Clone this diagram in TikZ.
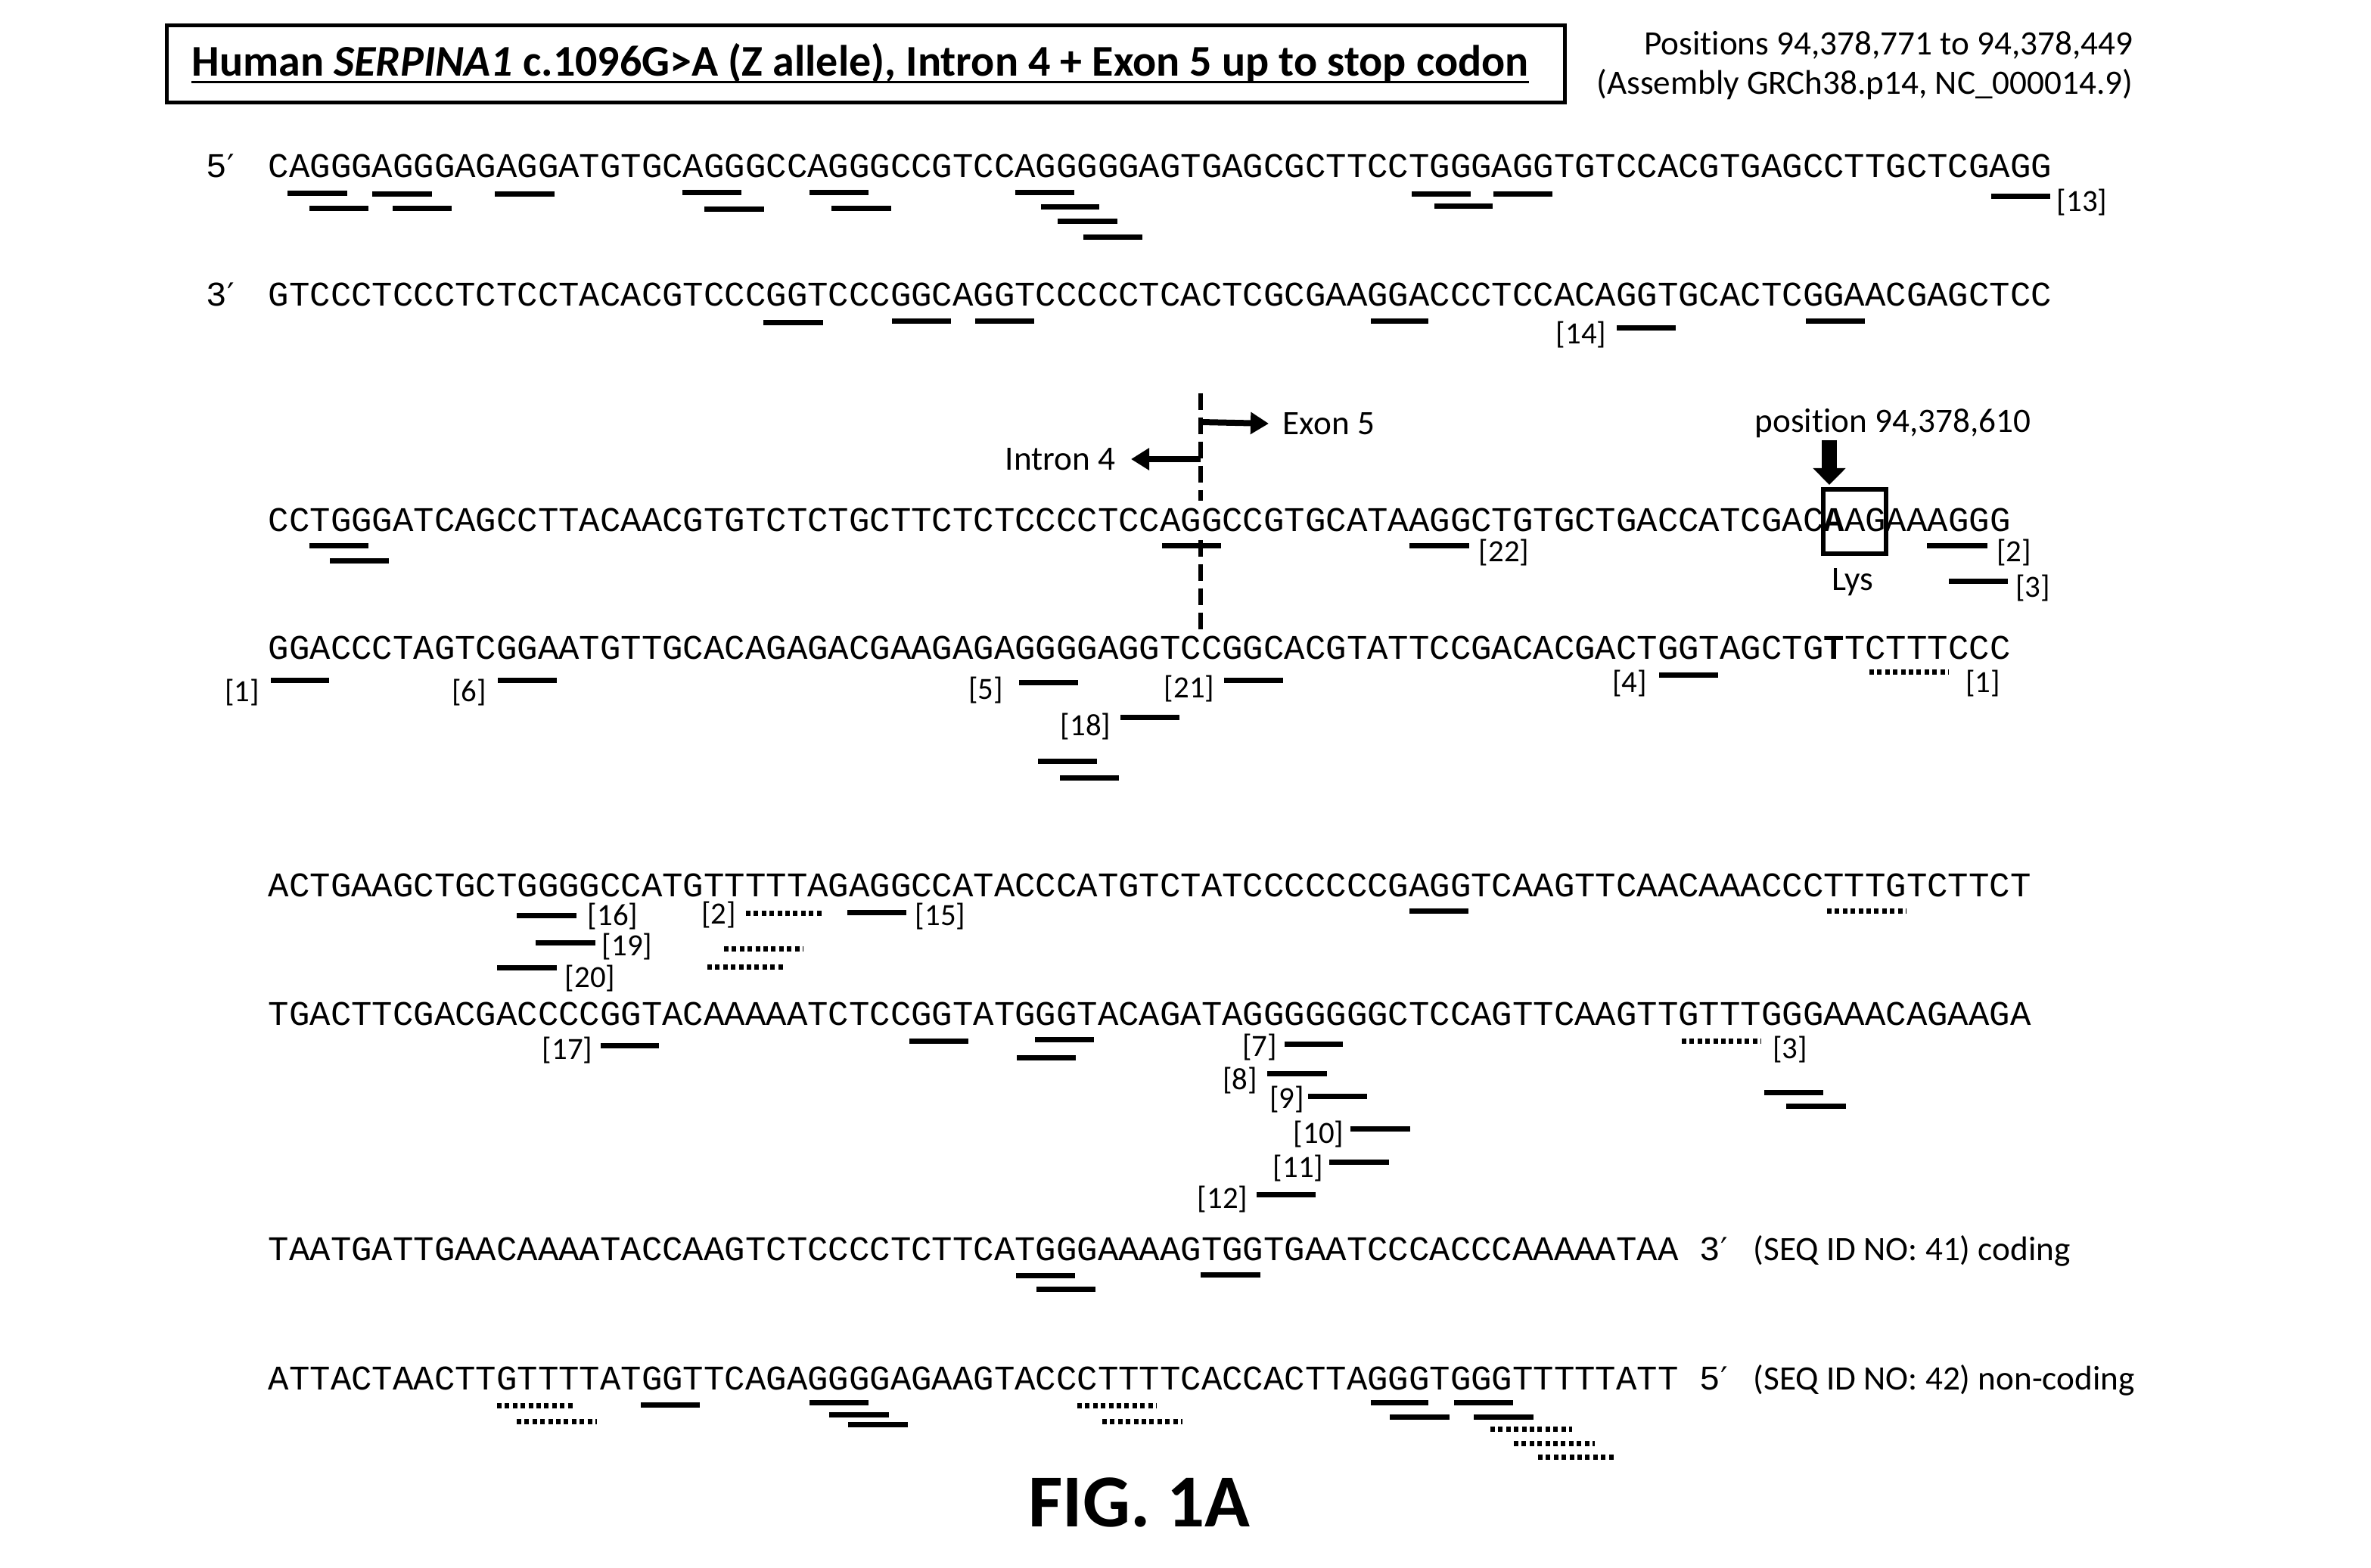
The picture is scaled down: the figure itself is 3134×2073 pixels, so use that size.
\documentclass[tikz,border=0pt]{standalone}
\usepackage{fontspec}
\setmainfont{Carlito}[Ligatures=NoCommon]
\newfontfamily\seqfam{Liberation Mono}
\newfontfamily\primefam{DejaVu Sans}
\usetikzlibrary{arrows.meta}
\newcommand\olg[3]{\draw[oligo] (#1,#3) -- (#2,#3);}
\newcommand\olgd[3]{\draw[oligodot] (#1,#3) -- (#2,#3);}
\newcommand\prm{{\primefam\fontsize{10.5pt}{13pt}\selectfont ′}}
\begin{document}
\begin{tikzpicture}[x=0.25pt,y=-0.25pt,
  seq/.style={font=\seqfam\fontsize{11.42pt}{13pt}\selectfont, anchor=base west, inner sep=0pt},
  lab/.style={font=\fontsize{11.3pt}{13pt}\selectfont, inner sep=0pt},
  ref/.style={font=\fontsize{10.2pt}{12pt}\selectfont, inner sep=0pt},
  oligo/.style={line width=1.75pt},
  oligodot/.style={line width=1.75pt, dash pattern=on 1.5pt off 1.1pt},
  bigarrow/.style={line width=2pt, -{Triangle[length=6pt,width=7pt]}},
]
\useasboundingbox (0,0) rectangle (3134,2073);

% title
\node[draw, line width=1.25pt, minimum width=462pt, minimum height=25.5pt, inner sep=0pt] (titlebox) at (1144,85) {};
\node[font=\bfseries\fontsize{14.5pt}{16pt}\selectfont, anchor=base, inner sep=0pt] (title) at (1137,101)
  {Human \textit{SERPINA1} c.1096G>A (Z allele), Intron 4 + Exon 5 up to stop codon};
\draw[line width=0.8pt] ([yshift=-1.9pt]title.base west) -- ([yshift=-1.9pt]title.base east);
\node[lab, anchor=east] (pos1) at (2820,60) {Positions 94,378,771 to 94,378,449};
\node[lab, anchor=east] (pos2) at (2820,112) {(Assembly GRCh38.p14, NC\_000014.9)};

% sequences
\node[seq] (p1) at (272,235) {5\prm};
\node[seq] (s1) at (354,235) {CAGGGAGGGAGAGGATGTGCAGGGCCAGGGCCGTCCAGGGGGAGTGAGCGCTTCCTGGGAGGTGTCCACGTGAGCCTTGCTCGAGG};
\node[seq] (p2) at (272,405) {3\prm};
\node[seq] (s2) at (354,405) {GTCCCTCCCTCTCCTACACGTCCCGGTCCCGGCAGGTCCCCCTCACTCGCGAAGGACCCTCCACAGGTGCACTCGGAACGAGCTCC};
\node[seq] (s3) at (354,703) {CCTGGGATCAGCCTTACAACGTGTCTCTGCTTCTCTCCCCTCCAGGCCGTGCATAAGGCTGTGCTGACCATCGAC{\bfseries A}AGAAAGGG};
\node[seq] (s4) at (354,872) {GGACCCTAGTCGGAATGTTGCACAGAGACGAAGAGAGGGGAGGTCCGGCACGTATTCCGACACGACTGGTAGCTG{\bfseries T}TCTTTCCC};
\node[seq] (s5) at (354,1185) {ACTGAAGCTGCTGGGGCCATGTTTTTAGAGGCCATACCCATGTCTATCCCCCCCGAGGTCAAGTTCAACAAACCCTTTGTCTTCT};
\node[seq] (s6) at (354,1355) {TGACTTCGACGACCCCGGTACAAAAATCTCCGGTATGGGTACAGATAGGGGGGGCTCCAGTTCAAGTTGTTTGGGAAACAGAAGA};
\node[seq] (s7) at (354,1666) {TAATGATTGAACAAAATACCAAGTCTCCCCTCTTCATGGGAAAAGTGGTGAATCCCACCCAAAAATAA};
\node[seq] (e7) at (2246,1666) {3\prm};
\node[lab, anchor=base west] (id7) at (2317,1666) {(SEQ ID NO: 41) coding};
\node[seq] (s8) at (354,1837) {ATTACTAACTTGTTTTATGGTTCAGAGGGGAGAAGTACCCTTTTCACCACTTAGGGTGGGTTTTTATT};
\node[seq] (e8) at (2246,1837) {5\prm};
\node[lab, anchor=base west] (id8) at (2317,1837) {(SEQ ID NO: 42) non-coding};

% intron/exon boundary
\draw[line width=1.6pt, dash pattern=on 5.5pt off 2.5pt] (1587,520) -- (1587,662);
\draw[line width=1.6pt, dash pattern=on 5.5pt off 2.5pt] (1587,714) -- (1587,836);
\coordinate (split1) at (1587,558);
\coordinate (split2) at (1587,607);
\node[lab, anchor=west] (exon) at (1695,560) {Exon 5};
\node[lab, anchor=east] (intron) at (1475,607) {Intron 4};
\draw[bigarrow] (split1) -- ([xshift=-4.5pt]exon.west);
\draw[bigarrow] (split2) -- ([xshift=5pt]intron.east);

% mutation position
\node[lab] (posn) at (2502,560) {position 94,378,610};
\node[draw, line width=1.4pt, minimum width=20.75pt, minimum height=21.25pt, inner sep=0pt] (codon) at (2451.5,689.5) {};
\draw[line width=5pt, -{Triangle[length=5.5pt,width=10.5pt]}] (2418,582) -- (2418,641);
\node[lab] (lys) at (2449,770) {Lys};

% line 1 oligos
\olg{380}{459}{256} \olg{492}{571}{257} \olg{654}{733}{257} \olg{902}{980}{255}
\olg{1070}{1148}{255} \olg{1342}{1420}{255}
\olg{409}{487}{276} \olg{519}{597}{276} \olg{931}{1010}{277} \olg{1099}{1178}{276}
\olg{1376}{1453}{274} \olg{1398}{1477}{293} \olg{1432}{1510}{314}
\olg{1866}{1944}{257} \olg{1974}{2052}{257} \olg{1896}{1973}{273} \olg{2632}{2710}{260}
\node[ref] (r13) at (2752,268) {[13]};

% line 2 oligos
\olg{1009}{1088}{427} \olg{1179}{1257}{425} \olg{1289}{1367}{425} \olg{1812}{1888}{425}
\olg{2137}{2215}{434} \olg{2387}{2465}{425}
\node[ref] (r14) at (2090,443) {[14]};

% line 3 oligos
\olg{409}{487}{722} \olg{436}{514}{742} \olg{1536}{1614}{722} \olg{1863}{1942}{722}
\olg{2547}{2627}{722} \olg{2576}{2654}{769}
\node[ref] (r22) at (1988,731) {[22]};
\node[ref] (r2a) at (2662,731) {[2]};
\node[ref] (r3a) at (2687,778) {[3]};

% line 4 oligos
\olg{358}{435}{900} \olg{658}{736}{900} \olg{1347}{1425}{903} \olg{1481}{1559}{949}
\olg{1372}{1450}{1006} \olg{1401}{1479}{1028} \olg{1618}{1696}{900} \olg{2193}{2271}{893}
\olgd{2471}{2576}{889}
\node[ref] (r1a) at (320,916) {[1]};
\node[ref] (r6) at (620,916) {[6]};
\node[ref] (r5) at (1303,913) {[5]};
\node[ref] (r18) at (1435,961) {[18]};
\node[ref] (r21) at (1572,911) {[21]};
\node[ref] (r4) at (2154,904) {[4]};
\node[ref] (r1b) at (2621,904) {[1]};

% line 5 oligos
\olg{683}{762}{1210} \olg{1120}{1198}{1206} \olg{708}{787}{1246} \olg{657}{736}{1279}
\olg{1863}{1941}{1204}
\olgd{986}{1090}{1207} \olgd{957}{1062}{1254} \olgd{935}{1039}{1278} \olgd{2415}{2520}{1204}
\node[ref] (r16) at (810,1212) {[16]};
\node[ref] (r2b) at (950,1210) {[2]};
\node[ref] (r15) at (1243,1212) {[15]};
\node[ref] (r19) at (829,1252) {[19]};
\node[ref] (r20) at (780,1294) {[20]};

% line 6 oligos
\olg{794}{871}{1382} \olg{1202}{1280}{1376} \olg{1368}{1446}{1374} \olg{1344}{1422}{1398}
\olg{1698}{1775}{1380} \olg{1675}{1754}{1419} \olg{1729}{1807}{1449} \olg{1785}{1864}{1492}
\olg{1757}{1836}{1536} \olg{1661}{1739}{1579} \olg{2332}{2410}{1444} \olg{2361}{2440}{1462}
\olgd{2223}{2328}{1376}
\node[ref] (r17) at (750,1389) {[17]};
\node[ref] (r7) at (1665,1385) {[7]};
\node[ref] (r8) at (1639,1429) {[8]};
\node[ref] (r9) at (1701,1454) {[9]};
\node[ref] (r10) at (1743,1500) {[10]};
\node[ref] (r11) at (1716,1545) {[11]};
\node[ref] (r12) at (1616,1586) {[12]};
\node[ref] (r3b) at (2366,1388) {[3]};

% line 7 oligos
\olg{1343}{1421}{1686} \olg{1370}{1448}{1704} \olg{1587}{1666}{1685}

% line 8 oligos
\olg{847}{925}{1857} \olg{1070}{1148}{1854} \olg{1096}{1175}{1870} \olg{1121}{1200}{1883}
\olg{1812}{1888}{1854} \olg{1922}{2000}{1854} \olg{1837}{1916}{1873} \olg{1948}{2027}{1873}
\olgd{657}{761}{1858} \olgd{683}{789}{1879} \olgd{1424}{1529}{1858} \olgd{1457}{1563}{1879}
\olgd{1970}{2078}{1889} \olgd{2001}{2108}{1908} \olgd{2033}{2137}{1926}

% figure label
\node[font=\bfseries\fontsize{24.7pt}{28pt}\selectfont, inner sep=0pt] (fig) at (1506,1986) {FIG. 1A};
\end{tikzpicture}
\end{document}
